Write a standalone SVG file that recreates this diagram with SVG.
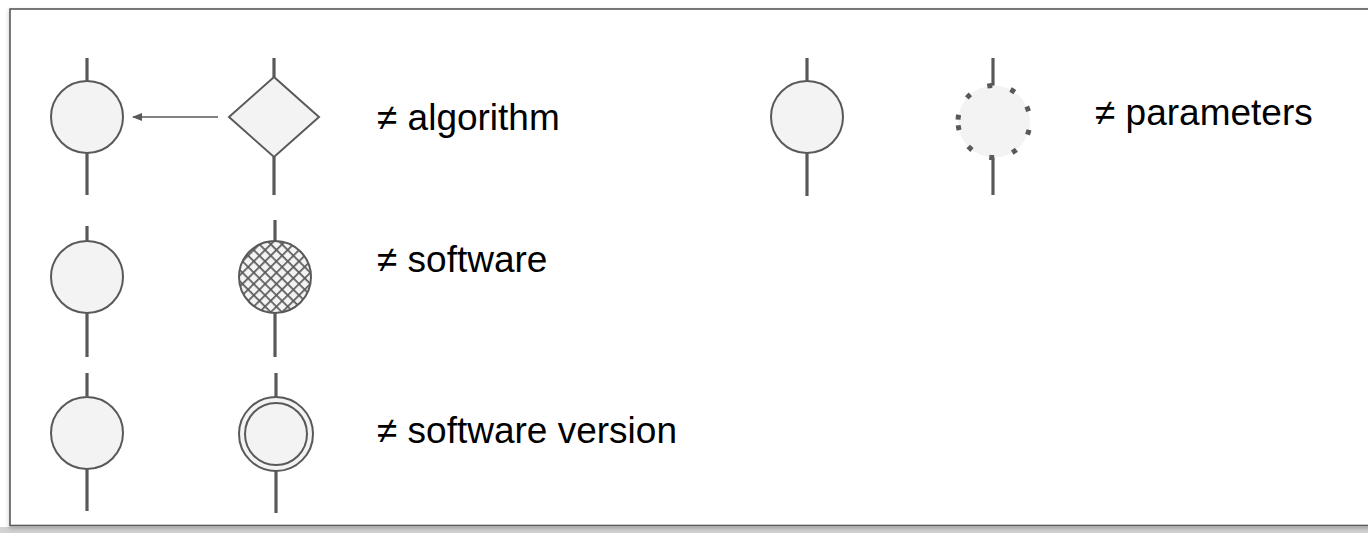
<svg xmlns="http://www.w3.org/2000/svg" width="1368" height="533" viewBox="0 0 1368 533">
<style>
.node{fill:#f3f3f3;stroke:#595959;stroke-width:2}
.stem{stroke:#595959;stroke-width:3.2;fill:none}
.lbl{font-family:"Liberation Sans",Arial,sans-serif;font-size:37px;fill:#000}
.arrow{stroke:#595959;stroke-width:1.5;fill:none}
</style>
<defs>
<marker id="ah" viewBox="0 0 10 10" refX="9" refY="5" markerWidth="10" markerHeight="10" markerUnits="userSpaceOnUse" orient="auto">
<path d="M0,1 L10,5 L0,9 Z" fill="#595959"/>
</marker>
<pattern id="hatch" patternUnits="userSpaceOnUse" width="8" height="8" patternTransform="rotate(45 275 277)">
<rect width="8" height="8" fill="#f3f3f3"/>
<line x1="0" y1="0" x2="0" y2="8" stroke="#595959" stroke-width="3.4"/>
<line x1="0" y1="0" x2="8" y2="0" stroke="#595959" stroke-width="3.4"/>
</pattern>
<filter id="sh" x="-5%" y="-5%" width="110%" height="110%">
<feDropShadow dx="0" dy="2" stdDeviation="2" flood-color="#000" flood-opacity="0.25"/>
</filter>
</defs>
<rect x="0" y="0" width="1368" height="533" fill="#ffffff"/>
<rect x="0" y="527" width="1368" height="6" fill="#d2d2d2"/>
<rect x="10" y="9" width="1380" height="516.5" fill="#ffffff" stroke="#595959" stroke-width="1.6" filter="url(#sh)"/>

<g id="connectors">
<line class="stem" x1="87" y1="58" x2="87" y2="81"/>
<line class="stem" x1="87" y1="153" x2="87" y2="195"/>
<line class="stem" x1="274" y1="58" x2="274" y2="77"/>
<line class="stem" x1="274" y1="157" x2="274" y2="195"/>
<line class="arrow" x1="218" y1="117" x2="133" y2="117" marker-end="url(#ah)"/>
<line class="stem" x1="87" y1="226" x2="87" y2="241"/>
<line class="stem" x1="87" y1="313" x2="87" y2="357"/>
<line class="stem" x1="275" y1="220" x2="275" y2="241"/>
<line class="stem" x1="275" y1="313" x2="275" y2="357"/>
<line class="stem" x1="87" y1="373" x2="87" y2="396"/>
<line class="stem" x1="87" y1="469" x2="87" y2="511"/>
<line class="stem" x1="276" y1="373" x2="276" y2="397"/>
<line class="stem" x1="276" y1="471" x2="276" y2="513"/>
<line class="stem" x1="807" y1="58" x2="807" y2="81"/>
<line class="stem" x1="807" y1="153" x2="807" y2="196"/>
<line class="stem" x1="993" y1="58" x2="993" y2="86"/>
<line class="stem" x1="993" y1="157" x2="993" y2="195"/>
</g>

<g id="node-circle-1"><circle class="node" cx="87" cy="117" r="36"/></g>
<g id="node-diamond"><polygon class="node" points="274,77 319,117 274,157 229,117"/></g>
<g id="node-circle-2"><circle class="node" cx="87" cy="277" r="36"/></g>
<g id="node-hatched"><circle cx="275" cy="277" r="36" fill="url(#hatch)" stroke="#595959" stroke-width="2"/></g>
<g id="node-circle-3"><circle class="node" cx="87" cy="433" r="36"/></g>
<g id="node-double">
<circle class="node" cx="276" cy="434" r="37"/>
<circle class="node" cx="276" cy="434" r="31"/>
</g>
<g id="node-circle-4"><circle class="node" cx="807" cy="117" r="36"/></g>
<g id="node-dotted">
<circle cx="994" cy="121.5" r="36" fill="#f3f3f3"/>
<circle cx="994" cy="121.5" r="36" fill="none" stroke="#595959" stroke-width="5" stroke-dasharray="5 18.9" transform="rotate(183 994 121.5)"/>
</g>

<g id="labels">
<text class="lbl" x="377" y="130">≠ algorithm</text>
<text class="lbl" x="377" y="272">≠ software</text>
<text class="lbl" x="377" y="443">≠ software version</text>
<text class="lbl" x="1095" y="125">≠ parameters</text>
</g>
</svg>
